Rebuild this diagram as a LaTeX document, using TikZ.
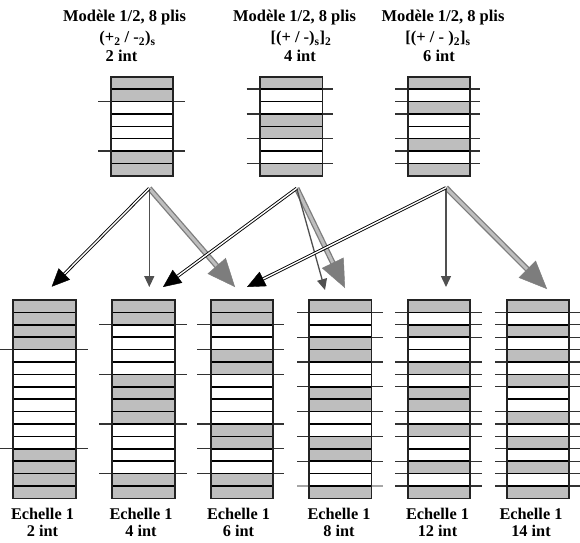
\documentclass[tikz,border=0pt]{standalone}
\usepackage{fontspec}
\setmainfont{Liberation Serif}
\usetikzlibrary{arrows.meta,calc}
\definecolor{plyg}{RGB}{190,190,190}
\definecolor{frameC}{RGB}{35,35,35}
\definecolor{intC}{RGB}{50,50,50}
\definecolor{thinC}{RGB}{80,80,80}
\definecolor{grayArr}{RGB}{125,125,125}
\definecolor{grayArrIn}{RGB}{190,190,190}
\newcommand\drawlam[8]{%
  \foreach \gg in {#5} {%
    \pgfmathsetmacro\plya{#3+(\gg-1)*12.4}%
    \pgfmathsetmacro\plyb{#3+\gg*12.4}%
    \fill[plyg] (#2,\plya) rectangle (#2+62.5,\plyb);%
  }%
  \foreach \kk in {#6} {%
    \pgfmathsetmacro\plyc{#3+\kk*12.4}%
    \draw[intline] (#7,\plyc) -- (#8,\plyc);%
  }%
  \foreach \kk in {1,...,#4} {%
    \pgfmathsetmacro\plyc{#3+\kk*12.4}%
    \draw[plyline] (#2,\plyc) -- (#2+62.5,\plyc);%
  }%
  \node[lamframe, minimum height={#4*12.4*1pt}, anchor=north west] (#1) at (#2,#3) {};%
}
\begin{document}
\begin{tikzpicture}[x=1pt,y=-1pt,
  lamframe/.style={draw=frameC, line width=1.7pt, minimum width=62.5pt, inner sep=0pt, outer sep=0pt},
  plyline/.style={draw=black, line width=1.5pt},
  intline/.style={draw=intC, line width=1.3pt},
  title/.style={font=\fontsize{16.5}{18}\selectfont\bfseries, inner sep=0pt},
  lab/.style={font=\fontsize{16.3}{18}\selectfont\bfseries, inner sep=0pt},
  blackshaft/.style={draw=black, line width=0.9pt, double=white, double distance=1.4pt, shorten >=15pt},
  blackhead/.style={draw=black, line width=0.4pt, -{Triangle[length=18pt,width=16pt]}},
  thinarr/.style={draw=thinC, line width=1.3pt, -{Triangle[length=11pt,width=10pt]}},
  grayshaft/.style={draw=grayArr, line width=1.3pt, double=grayArrIn, double distance=3pt, shorten >=24pt},
  grayhead/.style={draw=grayArr, line width=0.4pt, -{Triangle[length=28pt,width=24pt]}}
]
\useasboundingbox (0,0) rectangle (580,542);
\fill[white] (0,0) rectangle (580,542);

% ---- titles
\node[title] (t1a) at (124.5,18) {Modèle 1/2, 8 plis};
\node[title] (t1b) at (127.5,39) {(+\textsubscript{2} / -\textsubscript{2})\textsubscript{s}};
\node[title] (t1c) at (121.5,56) {2 int};
\node[title] (t2a) at (294.5,18) {Modèle 1/2, 8 plis};
\node[title] (t2b) at (301,39) {[(+ / -)\textsubscript{s}]\textsubscript{2}};
\node[title] (t2c) at (300,56) {4 int};
\node[title] (t3a) at (443,18) {Modèle 1/2, 8 plis};
\node[title] (t3b) at (438,39) {[(+ / - )\textsubscript{2}]\textsubscript{s}};
\node[title] (t3c) at (439,56) {6 int};

% ---- top models
\drawlam{m1}{110.7}{76.7}{8}{1,2,7,8}{2,6}{98}{185}
\drawlam{m2}{260}{76.7}{8}{1,4,5,8}{1,3,5,7}{246.7}{332.7}
\drawlam{m3}{407.8}{76.7}{8}{1,3,6,8}{1,2,3,5,6,7}{395}{480}

% ---- bottom stacks
\drawlam{s1}{13.3}{300}{16}{1,2,3,4,13,14,15,16}{4,12}{0}{88}
\drawlam{s2}{112.3}{300}{16}{1,2,7,8,9,10,15,16}{2,6,10,14}{99}{186.7}
\drawlam{s3}{210.7}{300}{16}{1,2,5,6,11,12,15,16}{2,4,6,10,12,14}{197.3}{284.3}
\draw[draw=black!35, line width=1.1pt] (297,486) -- (383,486);
\drawlam{s4}{309}{300}{16}{1,4,5,8,9,12,13,16}{1,3,5,7,9,11,13}{297}{383}
\drawlam{s5}{407.7}{300}{16}{1,3,6,8,9,11,14,16}{1,2,3,5,6,7,9,10,11,13,14,15}{395}{481.7}
\drawlam{s6}{506.7}{300}{16}{1,3,5,7,10,12,14,16}{1,2,3,4,5,6,7,9,10,11,12,13,14,15}{495}{580}

% ---- bottom labels
\foreach \n/\x/\t in {1/42.5/2, 2/141/4, 3/238.5/6, 4/339/8, 5/437.5/12, 6/531/14} {
  \node[lab] (e\n) at (\x,514) {Echelle 1};
  \node[lab] (i\n) at (\x,531) {\t\ int};
}

% ---- arrow end points
\coordinate (o1) at (149.3,188.3);
\coordinate (o2) at (296.7,188.3);
\coordinate (o3) at (446,187.7);
\coordinate (a1k) at (51.7,286.7);
\coordinate (a1t) at (149.3,287);
\coordinate (a1g) at (235,287);
\coordinate (a2k) at (163,287);
\coordinate (a2t) at (325,290);
\coordinate (a2g) at (345,288);
\coordinate (a3k) at (247,287);
\coordinate (a3t) at (446,287);
\coordinate (a3g) at (547,289);

% gray thick arrows
\foreach \o/\a in {o1/a1g, o2/a2g, o3/a3g} {
  \draw[grayshaft] (\o) -- (\a);
  \draw[grayhead] ($(\a)!28pt!(\o)$) -- (\a);
}
% thin arrows
\foreach \o/\a in {o1/a1t, o2/a2t, o3/a3t} {
  \draw[thinarr] (\o) -- (\a);
}
% black arrows
\foreach \o/\a in {o1/a1k, o2/a2k, o3/a3k} {
  \draw[blackshaft] (\o) -- (\a);
  \draw[blackhead] ($(\a)!18pt!(\o)$) -- (\a);
}
\end{tikzpicture}
\end{document}
